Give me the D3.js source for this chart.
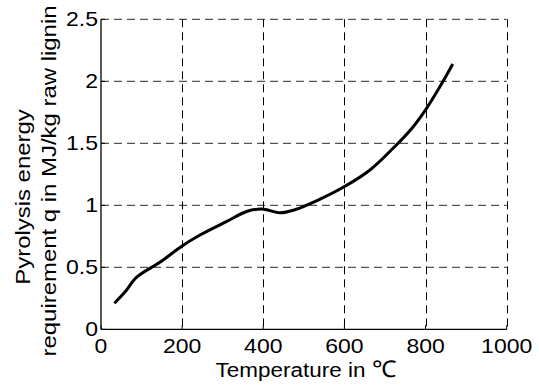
<!DOCTYPE html>
<html>
<meta charset="utf-8" />
<head>
<title>Pyrolysis energy requirement</title>
<script src="https://cdn.jsdelivr.net/npm/d3@7"></script>
<style>
	body { margin: 0; background: #fff; }
	text { font-family: "Liberation Sans", Arial, sans-serif; fill: #000; }
</style>
</head>
<body>
<svg id="chart" width="539" height="385"></svg>
<script>
// data
let temperature = [33, 59, 88, 145, 199, 244, 310, 359, 396, 441, 474, 540, 597, 663, 720, 766, 800, 836, 867];
let energy = [0.21, 0.30, 0.42, 0.54, 0.67, 0.76, 0.87, 0.95, 0.97, 0.94, 0.96, 1.05, 1.145, 1.285, 1.46, 1.62, 1.77, 1.96, 2.14];
let xTicks = [0, 200, 400, 600, 800, 1000];
let yTicks = [0, 0.5, 1, 1.5, 2, 2.5];

let svg = d3.select('#chart');
let padL = 101, padR = 506.7, padT = 19.3, padB = 329.3;

let x = d3.scaleLinear().domain([0, 1000]).range([padL, padR]);
let y = d3.scaleLinear().domain([0, 2.5]).range([padB, padT]);

// grid
svg.append('g').selectAll('line')
	.data(yTicks.slice(1))
	.enter().append('line')
	.attr('x1', padL).attr('x2', padR)
	.attr('y1', d => y(d)).attr('y2', d => y(d))
	.style('stroke', '#555').style('stroke-width', '1.3px')
	.style('stroke-dasharray', '8,5');

svg.append('g').selectAll('line')
	.data(xTicks.slice(1))
	.enter().append('line')
	.attr('x1', d => Math.round(x(d)) + 0.5).attr('x2', d => Math.round(x(d)) + 0.5)
	.attr('y1', padT).attr('y2', padB)
	.style('stroke', '#000').style('stroke-width', '1px')
	.style('stroke-dasharray', '8,5');

// axes (left + bottom only)
svg.append('line').attr('x1', padL).attr('x2', padL).attr('y1', padT).attr('y2', padB)
	.style('stroke', '#000').style('stroke-width', '1.3px');
svg.append('line').attr('x1', padL).attr('x2', padR).attr('y1', padB).attr('y2', padB)
	.style('stroke', '#000').style('stroke-width', '1.3px');

// tick marks inward
svg.append('g').selectAll('line').data(yTicks).enter().append('line')
	.attr('x1', padL).attr('x2', padL + 4)
	.attr('y1', d => y(d)).attr('y2', d => y(d))
	.style('stroke', '#000');
svg.append('g').selectAll('line').data(xTicks).enter().append('line')
	.attr('x1', d => x(d)).attr('x2', d => x(d))
	.attr('y1', padB).attr('y2', padB - 4)
	.style('stroke', '#000');

// tick labels (glyphs are wider in the original)
svg.append('g').selectAll('text').data(yTicks).enter().append('text')
	.attr('transform', d => 'translate(' + (padL - 3) + ',' + y(d) + ') scale(1.15,1)')
	.attr('text-anchor', 'end').attr('dy', '0.35em')
	.style('font-size', '20px')
	.text(d => d);
svg.append('g').selectAll('text').data(xTicks).enter().append('text')
	.attr('transform', d => 'translate(' + x(d) + ',' + (padB + 24) + ') scale(1.15,1)')
	.attr('text-anchor', 'middle')
	.style('font-size', '20px')
	.text(d => d);

// axis titles
let xTitle = svg.append('text')
	.attr('transform', 'translate(306,377) scale(1.07,1)')
	.attr('text-anchor', 'middle')
	.style('font-size', '21px');
xTitle.append('tspan').text('Temperature in ');
xTitle.append('tspan').style('font-size', '23px').text('℃');

svg.append('text')
	.attr('transform', 'translate(29.5,197) rotate(-90) scale(1.14,1)')
	.attr('text-anchor', 'middle')
	.style('font-size', '21px')
	.text('Pyrolysis energy');
svg.append('text')
	.attr('transform', 'translate(56,181) rotate(-90) scale(1.14,1)')
	.attr('text-anchor', 'middle')
	.style('font-size', '21px')
	.text('requirement q in MJ/kg raw lignin');

// curve
let line = d3.line()
	.x((d, i) => x(temperature[i]))
	.y(d => y(d))
	.curve(d3.curveCatmullRom);

svg.append('path')
	.datum(energy)
	.attr('d', line)
	.style('fill', 'none')
	.style('stroke', '#000')
	.style('stroke-width', '3px')
	.style('stroke-linejoin', 'round');
</script>
</body>
</html>
